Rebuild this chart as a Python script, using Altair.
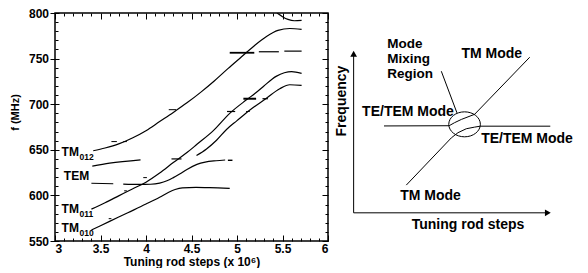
import altair as alt
import pandas as pd

FONT = "Liberation Sans"
H = 228

# ---------------- left panel: measured mode curves ----------------
tm012_x = [3.42, 3.55, 3.70, 3.85, 4.00, 4.15, 4.30, 4.45, 4.60, 4.75, 4.90, 5.05, 5.20, 5.32, 5.45, 5.58, 5.71]
tm012_y = [649, 652, 656.5, 663, 671, 681, 691, 701.5, 713, 725.5, 739, 752, 765, 774, 781, 783, 782]

tm011_x = [3.40, 3.55, 3.70, 3.85, 4.00, 4.15, 4.30, 4.45, 4.56, 4.74, 4.92, 5.10, 5.20, 5.29, 5.43, 5.52, 5.60, 5.71]
tm011_y = [585, 592, 599.5, 607, 614.5, 624.5, 636, 647, 656, 671, 690, 704.5, 712, 719.5, 730.5, 734.5, 735.8, 733.8]

upper_x = [4.555, 4.665, 4.775, 4.885, 5.00, 5.12, 5.32, 5.47, 5.58, 5.71]
upper_y = [643.7, 650.9, 660.5, 672.3, 682, 692, 706.3, 717, 721.3, 720.6]

tem_x = [3.75, 3.93, 4.05, 4.15, 4.23, 4.30, 4.37, 4.45, 4.56, 4.65, 4.77, 4.87]
tem_y = [612.4, 612.0, 612.2, 613.5, 616, 619.5, 623.5, 628.5, 634, 636.5, 638, 638.8]

tm010_x = [3.40, 3.60, 3.80, 4.00, 4.15, 4.25, 4.32, 4.40, 4.55, 4.70, 4.92]
tm010_y = [562, 571.5, 581, 590.5, 598, 603.5, 606.5, 608.3, 608.8, 608.5, 607.6]

mid_x = [3.41, 3.60, 3.94]
mid_y = [632, 635.3, 639]

top_x = [5.44, 5.50, 5.56, 5.63, 5.71]
top_y = [800, 796, 793, 791.5, 792]

# short measured segments / dashes
seg_x1 = [3.40, 4.92, 5.24, 5.52, 3.62, 3.75, 4.25, 3.97, 4.28, 3.76, 3.59, 4.90, 4.89, 5.07, 5.28, 5.10]
seg_x2 = [3.64, 5.19, 5.46, 5.71, 3.68, 3.79, 4.33, 4.01, 4.39, 3.79, 3.62, 4.95, 4.98, 5.21, 5.34, 5.14]
seg_y1 = [613.3, 756.4, 757.5, 758.2, 659, 659, 694, 619.5, 640, 605, 574.5, 638.5, 692, 706, 706, 692]
seg_y2 = [612.8, 756.4, 757.5, 758.2, 659, 659, 694, 619.5, 640, 605, 574.5, 638.5, 692, 706, 706, 692]
seg_w = [1.2, 1.8, 1.2, 1.2, 1.0, 1.0, 1.0, 1.0, 1.2, 1.0, 1.0, 1.4, 1.2, 2.0, 1.2, 1.0]

# mode labels
lab_text = ["TM", "TEM", "TM", "TM"]
lab_x = [3.263, 3.376, 3.263, 3.263]
lab_y = [648, 621, 585.4, 564]
sub_text = ["012", "011", "010"]
sub_x = [3.263, 3.263, 3.263]
sub_y = [648, 585.4, 564]

x_major = [3, 3.5, 4, 4.5, 5, 5.5, 6]
x_minor = [round(3 + 0.1 * i, 1) for i in range(31) if i % 5 != 0]
y_major = [550, 600, 650, 700, 750, 800]
y_minor = [550 + 10 * i for i in range(26) if i % 5 != 0]

rows = []
for name, xs, ys in [("tm012", tm012_x, tm012_y), ("tm011", tm011_x, tm011_y),
                     ("upper", upper_x, upper_y), ("tem", tem_x, tem_y),
                     ("tm010", tm010_x, tm010_y), ("mid", mid_x, mid_y),
                     ("top", top_x, top_y)]:
    for i, (a, b) in enumerate(zip(xs, ys)):
        rows.append({"series": name, "i": i, "x": a, "y": b})
df_lines = pd.DataFrame(rows)
df_seg = pd.DataFrame({"x1": seg_x1, "x2": seg_x2, "y1": seg_y1, "y2": seg_y2, "w": seg_w})
df_lab = pd.DataFrame({"t": lab_text, "x": lab_x, "y": lab_y})
df_sub = pd.DataFrame({"t": sub_text, "x": sub_x, "y": sub_y})

xs = alt.Scale(domain=[3, 6], nice=False, zero=False)
ys = alt.Scale(domain=[550, 800], nice=False, zero=False)


def tick_axis(orient, values, size, inside=None, **kw):
    if inside is None:
        inside = size
    d = dict(orient=orient, values=values, tickSize=size, offset=-inside, domain=False,
             grid=False, labels=False, title=None, tickColor="black", tickWidth=1)
    d.update(kw)
    return alt.Axis(**d)


ax_bottom = tick_axis("bottom", x_major, 6, labels=True, labelFont=FONT, labelFontSize=12,
                      labelFontWeight="bold", labelColor="black", labelPadding=2, format="~g",
                      title="Tuning rod steps (x 10⁶)", titleFont=FONT, titleFontSize=12,
                      titleFontWeight="bold", titleColor="black", titlePadding=2)
ax_left = tick_axis("left", y_major, 9, inside=4, labels=True, labelFont=FONT, labelFontSize=12,
                    labelFontWeight="bold", labelColor="black", labelPadding=1.5,
                    title="f (MHz)", titleFont=FONT, titleFontSize=11, titleFontWeight="bold",
                    titleColor="black", titlePadding=8, titleY=H / 2 - 15)

L1 = alt.Chart(df_lines).mark_line(color="black", strokeWidth=1.2, interpolate="monotone", clip=True).encode(
    x=alt.X("x:Q", scale=xs, axis=ax_bottom),
    y=alt.Y("y:Q", scale=ys, axis=ax_left),
    detail="series:N", order="i:Q")

L2 = alt.Chart(df_seg).mark_rule(color="black").encode(
    x=alt.X("x1:Q", scale=xs, axis=tick_axis("bottom", x_minor, 3)),
    x2="x2:Q",
    y=alt.Y("y1:Q", scale=ys, axis=tick_axis("left", y_minor, 3)),
    y2="y2:Q",
    strokeWidth=alt.StrokeWidth("w:Q", scale=None))

L3 = alt.Chart(df_lines).mark_line(strokeOpacity=0).encode(
    x=alt.X("x:Q", scale=xs, axis=tick_axis("top", x_major, 6)),
    y=alt.Y("y:Q", scale=ys, axis=tick_axis("right", y_major, 6)),
    detail="series:N")

L4 = alt.Chart(df_lines).mark_line(strokeOpacity=0).encode(
    x=alt.X("x:Q", scale=xs, axis=tick_axis("top", x_minor, 3)),
    y=alt.Y("y:Q", scale=ys, axis=tick_axis("right", y_minor, 3)),
    detail="series:N")

L5 = alt.Chart(df_lab).mark_text(font=FONT, fontSize=12, fontWeight="bold", align="right",
                                 baseline="middle", color="black").encode(
    x=alt.X("x:Q", scale=xs, axis=None), y=alt.Y("y:Q", scale=ys, axis=None), text="t:N")

L6 = alt.Chart(df_sub).mark_text(font=FONT, fontSize=8.5, fontWeight="bold", align="left",
                                 baseline="middle", dy=5, dx=0.5, color="black").encode(
    x=alt.X("x:Q", scale=xs, axis=None), y=alt.Y("y:Q", scale=ys, axis=None), text="t:N")

left = alt.layer(L1, L2, L3, L4, L5, L6).resolve_axis(x="independent", y="independent").properties(
    width=273, height=H, view=alt.ViewBackground(stroke="black", strokeWidth=1.5))

# ---------------- right panel: schematic ----------------
path_id = ["axis_y", "axis_y", "axis_x", "axis_x",
           "upper", "upper", "upper", "upper", "upper", "upper", "upper",
           "lower", "lower", "lower", "lower", "lower", "lower", "lower",
           "pointer", "pointer"]
path_x = [7.2, 7.2, 7.2, 86.5,
          19.6, 46.2, 48.4, 51.2, 53.9, 56.6, 79.1,
          28.7, 47.1, 49.8, 53.2, 56.6, 58.9, 87.5,
          43.0, 49.4]
path_y = [11.7, 80.5, 11.7, 11.7,
          49.0, 49.1, 50.4, 51.8, 52.9, 54.0, 78.5,
          23.6, 43.9, 46.1, 47.8, 48.5, 48.9, 48.9,
          72.5, 54.6]
df_path = pd.DataFrame({"p": path_id, "i": list(range(len(path_id))), "x": path_x, "y": path_y})

head_shape = ["triangle-up", "triangle-right"]
head_x = [7.2, 86.5]
head_y = [80.0, 11.7]
df_head = pd.DataFrame({"s": head_shape, "x": head_x, "y": head_y})

mix_x = [52.5]
mix_y = [49.7]
df_mix = pd.DataFrame({"x": mix_x, "y": mix_y})

note_left_text = ["Mode", "Mixing", "Region"]
note_left_x = [20.9, 20.9, 20.9]
note_left_y = [84.0, 77.7, 71.2]
note_text = ["TM Mode", "TE/TEM Mode", "TE/TEM Mode", "TM Mode", "Tuning rod steps"]
note_x = [63.6, 29.4, 78.0, 38.6, 53.9]
note_y = [79.7, 54.9, 43.6, 18.9, 6.4]
freq_x = [2.4]
freq_y = [59.7]
freq_text = ["Frequency"]

rx = alt.Scale(domain=[0, 98], nice=False, zero=False)
ry = alt.Scale(domain=[-0.4, 97.5], nice=False, zero=False)

R1 = alt.Chart(df_path).mark_line(color="black", strokeWidth=1).encode(
    x=alt.X("x:Q", scale=rx, axis=None), y=alt.Y("y:Q", scale=ry, axis=None),
    detail="p:N", order="i:Q")
R2 = alt.Chart(df_head).mark_point(filled=True, color="black", opacity=1, size=45).encode(
    x=alt.X("x:Q", scale=rx, axis=None), y=alt.Y("y:Q", scale=ry, axis=None),
    shape=alt.Shape("s:N", scale=None))
ELLIPSE = ("M-1,0 C-1,-0.436 -0.552,-0.79 0,-0.79 C0.552,-0.79 1,-0.436 1,0 "
           "C1,0.436 0.552,0.79 0,0.79 C-0.552,0.79 -1,0.436 -1,0 Z")
R3 = alt.Chart(df_mix).mark_point(shape=ELLIPSE, filled=False, color="black", opacity=1,
                                   size=1000, strokeWidth=1).encode(
    x=alt.X("x:Q", scale=rx, axis=None), y=alt.Y("y:Q", scale=ry, axis=None))
R4 = alt.Chart(pd.DataFrame({"t": note_left_text, "x": note_left_x, "y": note_left_y})).mark_text(
    font=FONT, fontSize=13.5, fontWeight="bold", align="left", baseline="middle", color="black").encode(
    x=alt.X("x:Q", scale=rx, axis=None), y=alt.Y("y:Q", scale=ry, axis=None), text="t:N")
R5 = alt.Chart(pd.DataFrame({"t": note_text, "x": note_x, "y": note_y})).mark_text(
    font=FONT, fontSize=14, fontWeight="bold", align="center", baseline="middle", color="black").encode(
    x=alt.X("x:Q", scale=rx, axis=None), y=alt.Y("y:Q", scale=ry, axis=None), text="t:N")
R6 = alt.Chart(pd.DataFrame({"t": freq_text, "x": freq_x, "y": freq_y})).mark_text(
    font=FONT, fontSize=14, fontWeight="bold", align="center", baseline="middle", angle=270,
    color="black").encode(
    x=alt.X("x:Q", scale=rx, axis=None), y=alt.Y("y:Q", scale=ry, axis=None), text="t:N")

right = alt.layer(R1, R2, R3, R4, R5, R6).properties(
    width=240, height=H, view=alt.ViewBackground(stroke="transparent"))

chart = alt.hconcat(left, right, spacing=8, bounds="flush").properties(
    padding={"top": -2, "left": 0, "right": 0, "bottom": 0}, background="white")

chart.save("out.html", embed_options={"renderer": "svg", "actions": False})
